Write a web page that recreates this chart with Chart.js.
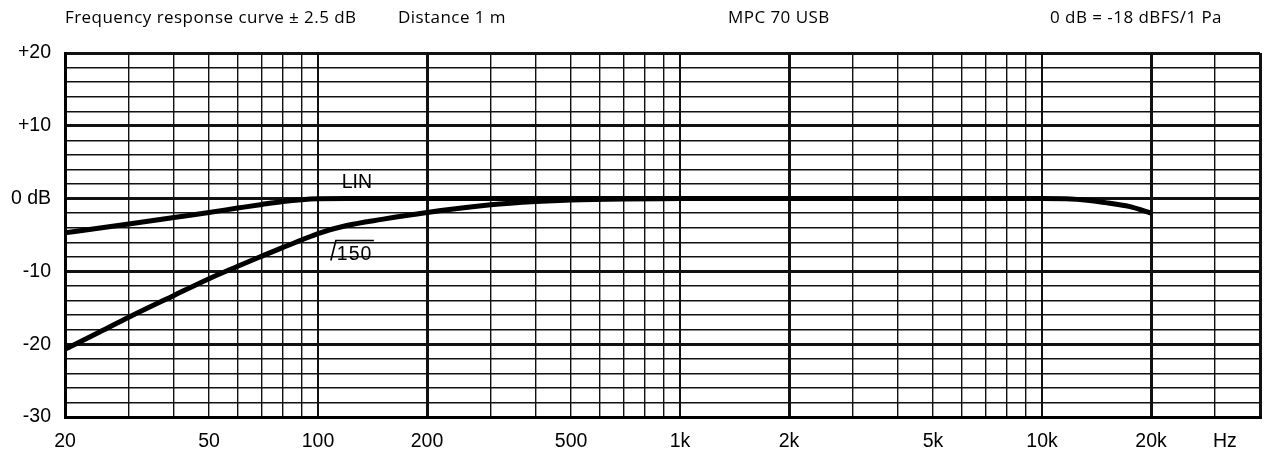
<!DOCTYPE html>
<html>
<head>
<meta charset="utf-8">
<script src="https://cdn.jsdelivr.net/npm/chart.js@4/dist/chart.umd.min.js"></script>
<style>
  html, body { margin: 0; padding: 0; background: #fff; }
  #wrap { width: 1273px; height: 450px; }
</style>
</head>
<body>
<div id="wrap"><canvas id="fr" width="1273" height="450"></canvas></div>
<script>
// Frequency response, MPC 70 USB
var linFreq = [20, 25, 30, 40, 50, 60, 70, 80, 90, 100, 120, 200, 500, 1000, 2000, 5000, 10000, 12000, 15000, 17500, 20000];
var linDb   = [-4.7, -4.05, -3.5, -2.6, -1.9, -1.3, -0.8, -0.4, -0.15, -0.03, 0, 0, 0, 0, 0, 0, 0, -0.05, -0.55, -1.1, -2.0];

var hpfFreq = [20, 25, 30, 40, 50, 60, 70, 80, 90, 100, 120, 150, 200, 300, 400, 500, 700, 1000];
var hpfDb   = [-20.7, -18.3, -16.3, -13.3, -11.0, -9.3, -7.9, -6.7, -5.7, -4.8, -3.7, -2.85, -1.9, -0.85, -0.4, -0.18, -0.04, 0];

// grid lines on the frequency axis (right border at 40k)
var freqGrid = [20, 30, 40, 50, 60, 70, 80, 90, 100, 200, 300, 400, 500, 600, 700, 800, 900,
  1000, 2000, 3000, 4000, 5000, 6000, 7000, 8000, 9000, 10000, 20000, 30000, 40000];
var freqLabels = { 20: '20', 50: '50', 100: '100', 200: '200', 500: '500', 1000: '1k',
  2000: '2k', 5000: '5k', 10000: '10k', 20000: '20k' };
var unitTickAt = 32000; // position of the "Hz" label

var dbGrid = [-30, -28, -26, -24, -22, -20, -18, -16, -14, -12, -10, -8, -6, -4, -2,
  0, 2, 4, 6, 8, 10, 12, 14, 16, 18, 20];
var dbLabels = { 20: '+20', 10: '+10', 0: '0 dB', '-10': '-10', '-20': '-20', '-30': '-30' };

var headerTexts = [
  { text: 'Frequency response curve \u00b1 2.5 dB', x: 65, align: 'left' },
  { text: 'Distance 1 m', x: 398, align: 'left' },
  { text: 'MPC 70 USB', x: 728, align: 'left' },
  { text: '0 dB = -18 dBFS/1 Pa', x: 1222, align: 'right' }
];

var tickFont = '"Liberation Sans", Arial, sans-serif';

function toPoints(xs, ys) {
  return xs.map(function (x, i) { return { x: x, y: ys[i] }; });
}

function weightFor(v) {
  if (v === 20 || v === 200 || v === 2000 || v === 20000 || v === 40000) return 3;
  if (v === 100 || v === 1000 || v === 10000) return 2;
  return 1.4;
}

var annotate = {
  id: 'annotate',
  afterDraw: function (chart) {
    var ctx = chart.ctx;
    var xs = chart.scales.x, ys = chart.scales.y;
    ctx.save();
    ctx.fillStyle = '#000';
    ctx.font = '17px "Open Sans", sans-serif';
    ctx.letterSpacing = '0.45px';
    ctx.textBaseline = 'alphabetic';
    headerTexts.forEach(function (h) {
      ctx.textAlign = h.align;
      ctx.fillText(h.text, h.x, 23);
    });
    ctx.letterSpacing = '0px';

    // curve labels
    ctx.font = '19.5px ' + tickFont;
    ctx.textAlign = 'center';
    ctx.fillText('LIN', xs.getPixelForValue(128), ys.getPixelForValue(1.5));

    var bx = xs.getPixelForValue(112);
    var by = ys.getPixelForValue(-8.5);
    ctx.textAlign = 'left';
    ctx.letterSpacing = '1px';
    ctx.fillText('150', bx + 1, by);
    ctx.letterSpacing = '0px';
    ctx.strokeStyle = '#000';
    ctx.lineWidth = 1.6;
    ctx.beginPath();
    ctx.moveTo(bx - 5, by);
    ctx.lineTo(bx, by - 20);
    ctx.lineTo(bx + 38, by - 20);
    ctx.stroke();
    ctx.restore();
  }
};

new Chart(document.getElementById('fr'), {
  type: 'line',
  data: {
    datasets: [
      { label: 'LIN', data: toPoints(linFreq, linDb), borderColor: '#000', borderWidth: 5,
        pointRadius: 0, cubicInterpolationMode: 'monotone', fill: false },
      { label: '150 Hz', data: toPoints(hpfFreq, hpfDb), borderColor: '#000', borderWidth: 5,
        pointRadius: 0, cubicInterpolationMode: 'monotone', fill: false }
    ]
  },
  options: {
    responsive: false,
    animation: false,
    layout: { padding: { left: 0, right: 11, top: 53, bottom: 0 } },
    plugins: { legend: { display: false }, tooltip: { enabled: false } },
    scales: {
      x: {
        type: 'logarithmic', min: 20, max: 40000,
        afterBuildTicks: function (scale) {
          scale.ticks = freqGrid.concat([unitTickAt]).sort(function (a, b) { return a - b; })
            .map(function (v) { return { value: v }; });
        },
        afterFit: function (scale) { scale.height = 33; },
        ticks: {
          autoSkip: false, maxRotation: 0, padding: 13, color: '#000',
          font: { family: tickFont, size: 19.5 },
          callback: function (v) {
            if (v === unitTickAt) return 'Hz';
            return freqLabels[v] || '';
          }
        },
        grid: {
          drawTicks: false,
          color: function (c) { return c.tick && c.tick.value === unitTickAt ? 'rgba(0,0,0,0)' : '#111'; },
          lineWidth: function (c) { return c.tick ? weightFor(c.tick.value) : 1; }
        },
        border: { color: '#000', width: 3 }
      },
      y: {
        min: -30, max: 20,
        afterBuildTicks: function (scale) {
          scale.ticks = dbGrid.map(function (v) { return { value: v }; });
        },
        afterFit: function (scale) { scale.width = 65; },
        ticks: {
          autoSkip: false, padding: 14, color: '#000',
          font: { family: tickFont, size: 19.5 },
          callback: function (v) { return dbLabels[v] !== undefined ? dbLabels[v] : ''; }
        },
        grid: {
          drawTicks: false, color: '#111',
          lineWidth: function (c) { return c.tick && c.tick.value % 10 === 0 ? 3 : 1.4; }
        },
        border: { color: '#000', width: 3 }
      }
    }
  },
  plugins: [annotate]
});
</script>
</body>
</html>
